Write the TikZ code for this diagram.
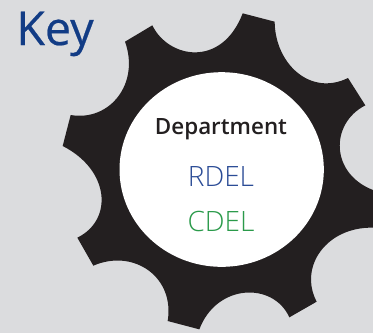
\documentclass[tikz,border=0pt]{standalone}
\usepackage{fontspec}
\setmainfont{Open Sans}
\newfontfamily\keyfont[FakeBold=0.5]{Open Sans}
\definecolor{bgc}{HTML}{DBDCDE}
\definecolor{gearc}{HTML}{231F20}
\definecolor{keyc}{HTML}{123C85}
\definecolor{rdelc}{HTML}{2B4C96}
\definecolor{cdelc}{HTML}{2A9A4A}
\tikzset{
  label text/.style={inner sep=0pt,anchor=base},
}
\begin{document}
\begin{tikzpicture}[x=0.25pt,y=-0.25pt]
\useasboundingbox (0,0) rectangle (1119,999);
\clip (0,0) rectangle (1119,999);
\fill[bgc] (0,0) rectangle (1119,999);
\fill[gearc] (457,76) .. controls (505,175) and (665,205) .. (728,40)
  -- (824,65) .. controls (825,190) and (930,290) .. (1044,234)
  -- (1096,316) .. controls (990,370) and (990,520) .. (1119,570)
  -- (1180,590) -- (1180,680) -- (1119,683) .. controls (980,680) and (895,800) .. (950,905)
  -- (868,952) .. controls (820,845) and (650,850) .. (598,988)
  -- (503,963) .. controls (525,830) and (400,745) .. (280,797)
  -- (232,713) .. controls (340,660) and (330,510) .. (188,438)
  -- (212,345) .. controls (330,365) and (420,250) .. (375,125) -- cycle;
\fill[white] (665,508.5) ellipse [x radius=306.5, y radius=292];
\node[label text,font=\keyfont\fontsize{35}{35}\selectfont,text=keyc] (key) at (165,135) {Key};
\node[label text,font=\fontsize{16.8}{17}\selectfont\fontspec{Open Sans Semibold},text=gearc] (dept) at (663,404) {Department};
\node[label text,font=\fontsize{21}{22}\selectfont\fontspec{Open Sans Light},text=rdelc] (rdel) at (663,560) {RDEL};
\node[label text,font=\fontsize{21}{22}\selectfont\fontspec{Open Sans Light},text=cdelc] (cdel) at (663,694) {CDEL};
\end{tikzpicture}
\end{document}
